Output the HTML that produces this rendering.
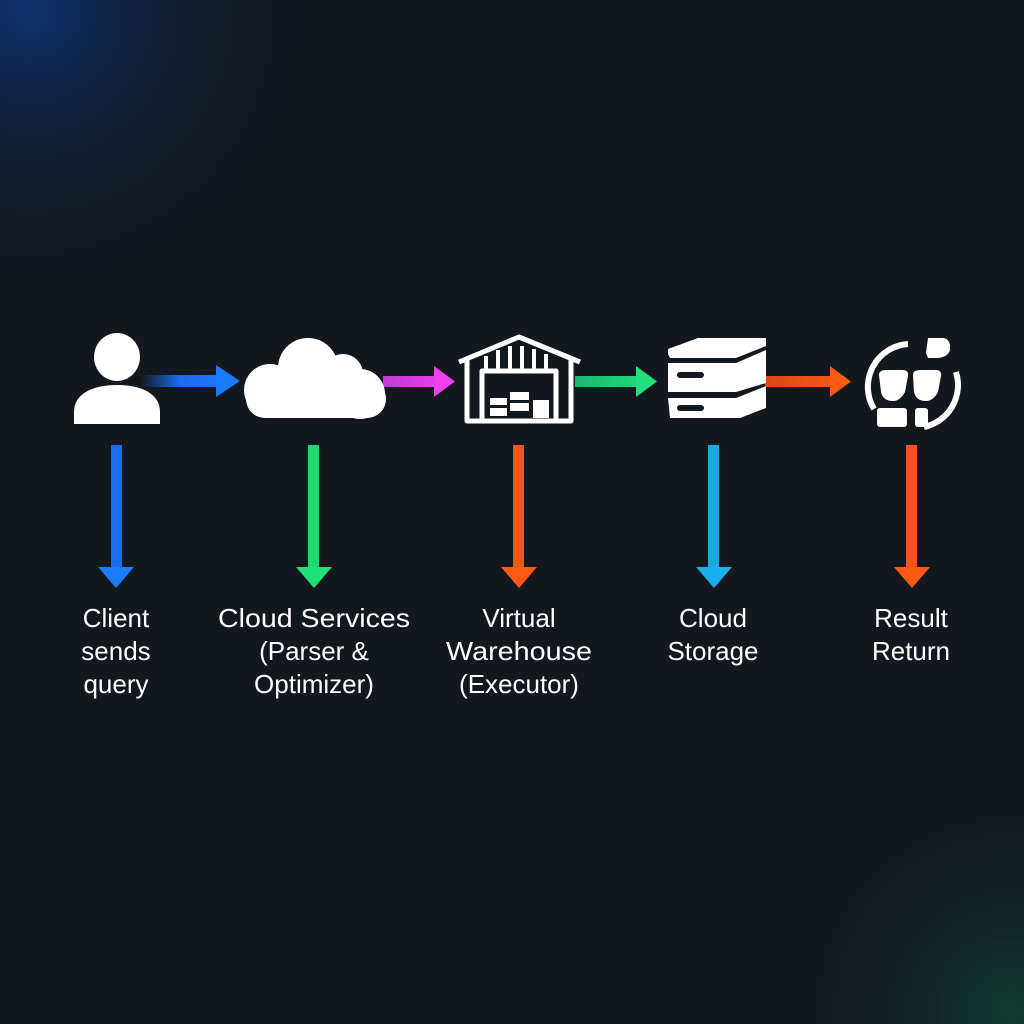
<!DOCTYPE html>
<html><head><meta charset="utf-8"><style>
html,body{margin:0;padding:0;width:1024px;height:1024px;overflow:hidden;background:#13171e}
</style></head><body>
<svg width="1024" height="1024" viewBox="0 0 1024 1024" xmlns="http://www.w3.org/2000/svg">
<defs>
<radialGradient id="gb" cx="30" cy="10" r="300" gradientUnits="userSpaceOnUse">
<stop offset="0" stop-color="#0b3a8a" stop-opacity="0.75"/>
<stop offset="0.5" stop-color="#0f2850" stop-opacity="0.35"/>
<stop offset="1" stop-color="#13171e" stop-opacity="0"/>
</radialGradient>
<radialGradient id="gg" cx="1010" cy="1010" r="240" gradientUnits="userSpaceOnUse">
<stop offset="0" stop-color="#0f4a38" stop-opacity="0.7"/>
<stop offset="0.55" stop-color="#12302c" stop-opacity="0.3"/>
<stop offset="1" stop-color="#13171e" stop-opacity="0"/>
</radialGradient>
<linearGradient id="a1" x1="140" x2="240" gradientUnits="userSpaceOnUse"><stop offset="0" stop-color="#1a6cf0" stop-opacity="0"/><stop offset="0.4" stop-color="#1a6cf0"/><stop offset="1" stop-color="#1a7cff"/></linearGradient>
<linearGradient id="a2" x1="383" x2="455" gradientUnits="userSpaceOnUse"><stop offset="0" stop-color="#c23ad8"/><stop offset="1" stop-color="#f040f0"/></linearGradient>
<linearGradient id="a3" x1="575" x2="657" gradientUnits="userSpaceOnUse"><stop offset="0" stop-color="#1ab870"/><stop offset="1" stop-color="#22e080"/></linearGradient>
<linearGradient id="a4" x1="765" x2="851" gradientUnits="userSpaceOnUse"><stop offset="0" stop-color="#d84a14"/><stop offset="1" stop-color="#ff5a14"/></linearGradient>
</defs>
<rect width="1024" height="1024" fill="#13171e"/>
<rect width="1024" height="1024" fill="url(#gb)"/>
<rect width="1024" height="1024" fill="url(#gg)"/>

<rect x="140" y="375" width="80" height="12" fill="url(#a1)"/>
<polygon points="216,365 240,381 216,397" fill="#1a7cff"/>
<rect x="383" y="376" width="55" height="11" fill="url(#a2)"/>
<polygon points="434,366 455,381.5 434,397" fill="#f040f0"/>
<rect x="575" y="376" width="64" height="11" fill="url(#a3)"/>
<polygon points="636,366 657,381.5 636,397" fill="#22e080"/>
<rect x="765" y="376" width="68" height="11" fill="url(#a4)"/>
<polygon points="830,366 851,381.5 830,397" fill="#ff5a14"/>

<ellipse cx="117" cy="357" rx="23" ry="24" fill="#fff"/>
<path d="M74,424 L74,412 C74,393 94,385 117,385 C140,385 160,393 160,412 L160,424 Z" fill="#fff"/>

<g fill="#fff">
<circle cx="308" cy="368" r="30"/>
<circle cx="343" cy="374" r="20"/>
<circle cx="270" cy="390" r="26"/>
<circle cx="360" cy="394" r="25"/>
<rect x="246" y="380" width="140" height="38" rx="19"/>
</g>

<g fill="none" stroke="#fff" stroke-width="5" stroke-linejoin="round">
<polyline points="459,362 519,337 580,362"/>
<polyline points="467,360 467,421 571,421 571,360"/>
<polyline points="482,421 482,371 556,371 556,421"/>
</g>
<g stroke="#fff" stroke-width="4">
<line x1="486" y1="356" x2="486" y2="371"/><line x1="498" y1="350" x2="498" y2="371"/>
<line x1="510" y1="346" x2="510" y2="371"/><line x1="522" y1="346" x2="522" y2="371"/>
<line x1="534" y1="349" x2="534" y2="371"/><line x1="546" y1="354" x2="546" y2="371"/>
</g>
<g fill="#fff">
<rect x="490" y="398" width="17" height="7"/><rect x="490" y="408" width="17" height="8"/>
<rect x="510" y="392" width="19" height="8"/><rect x="510" y="403" width="19" height="8"/>
<rect x="533" y="400" width="16" height="18"/>
</g>

<g fill="#fff">
<path d="M668,354 L668,349 L698,338 L766,338 L766,346 L736,358 L670,358 Z"/>
<path d="M668,363 L736,363 L766,350 L766,383 L736,392 L668,392 Z"/>
<path d="M668,398 L736,398 L766,386 L766,408 L740,418 L670,418 Z"/>
</g>
<rect x="677" y="372" width="27" height="6" rx="3" fill="#13171e"/>
<rect x="677" y="405" width="27" height="6" rx="3" fill="#13171e"/>

<path d="M908,344 A43,43 0 0 0 874,409" fill="none" stroke="#fff" stroke-width="6"/>
<path d="M956,372 A43,43 0 0 1 924,427" fill="none" stroke="#fff" stroke-width="6"/>
<path d="M928,338 L944,338 Q951,340 950,350 Q948,357 938,358 L928,358 L926,353 Z" fill="#fff"/>
<path d="M879,375 Q879,370 886,370 L902,370 Q909,370 908,376 L905,392 Q900,401 893,401 Q883,401 881,392 Z" fill="#fff"/>
<path d="M913,375 Q913,370 920,370 L936,370 Q942,370 941,376 L938,392 Q933,401 926,401 Q916,401 914,392 Z" fill="#fff"/>
<rect x="877" y="408" width="30" height="19" rx="3" fill="#fff"/>
<rect x="915" y="408" width="13" height="19" rx="3" fill="#fff"/>

<g>
<rect x="111" y="445" width="11" height="124" fill="#1a6cf0"/>
<polygon points="98,567 134,567 116,588" fill="#1a7cff"/>
<rect x="308" y="445" width="11" height="124" fill="#1fd870"/>
<polygon points="296,567 332,567 314,588" fill="#22e07a"/>
<rect x="513" y="445" width="11" height="124" fill="#f0561a"/>
<polygon points="501,567 537,567 519,588" fill="#ff5a14"/>
<rect x="708" y="445" width="11" height="124" fill="#1aa8e0"/>
<polygon points="696,567 732,567 714,588" fill="#1aaef0"/>
<rect x="906" y="445" width="11" height="124" fill="#f0561a"/>
<polygon points="894,567 930,567 912,588" fill="#ff5a14"/>
</g>

<g fill="#fff" font-family="Liberation Sans, sans-serif" font-size="26" text-anchor="middle">
<text x="116" y="627">Client</text><text x="116" y="660">sends</text><text x="116" y="693">query</text>
<text x="314" y="627" textLength="192" lengthAdjust="spacingAndGlyphs">Cloud Services</text><text x="314" y="660">(Parser &amp;</text><text x="314" y="693">Optimizer)</text>
<text x="519" y="627">Virtual</text><text x="519" y="660" textLength="146" lengthAdjust="spacingAndGlyphs">Warehouse</text><text x="519" y="693">(Executor)</text>
<text x="713" y="627">Cloud</text><text x="713" y="660">Storage</text>
<text x="911" y="627">Result</text><text x="911" y="660">Return</text>
</g>
</svg>
</body></html>
